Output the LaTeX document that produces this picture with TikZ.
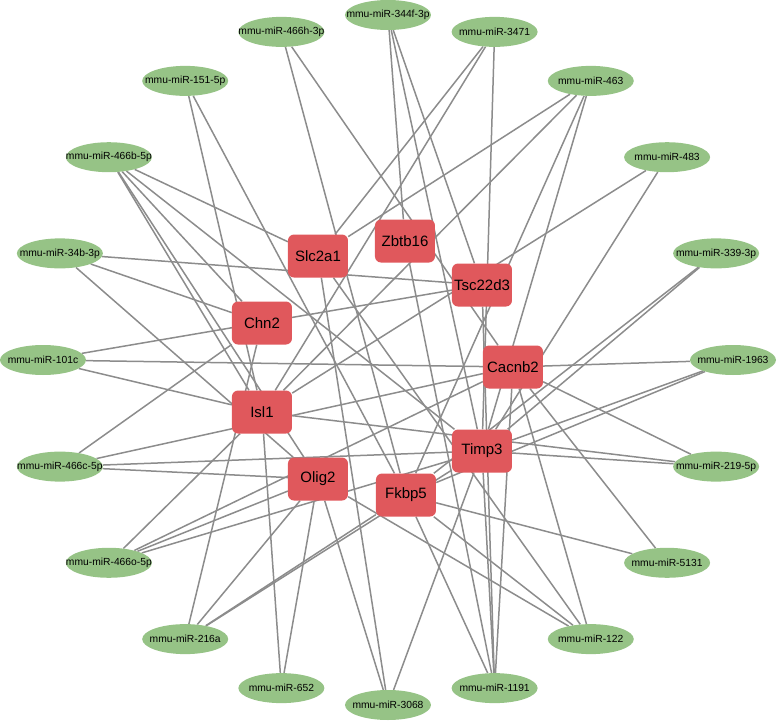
\documentclass[tikz,border=0pt]{standalone}
\usepackage{fontspec}
\setmainfont{Liberation Sans}
\usetikzlibrary{positioning}
\usetikzlibrary{shapes.geometric}
\usetikzlibrary{backgrounds}
\definecolor{mirgreen}{RGB}{150,195,134}
\definecolor{genered}{RGB}{224,88,92}
\definecolor{edgegray}{RGB}{140,140,140}
\newcommand{\mirtext}[1]{\makebox[0pt]{#1}}

\begin{document}
\begin{tikzpicture}[x=1pt, y=1pt,
        mirna/.style={ellipse, fill=mirgreen, minimum width=86pt, minimum height=30pt, inner sep=0pt, font=\fontsize{10.3}{12}\selectfont},
        gene/.style={rectangle, rounded corners=6pt, fill=genered, minimum width=60pt, minimum height=43pt, inner sep=0pt, font=\fontsize{15}{18}\selectfont},
        edge/.style={draw=edgegray, line width=1.5pt}]
        \useasboundingbox (-388,-361) rectangle (389,360);

        \node[mirna] (mir_344f) at (90:345) {\mirtext{mmu-miR-344f-3p}};
        \node[mirna] (mir_3471) at (72:345) {\mirtext{mmu-miR-3471}};
        \node[mirna] (mir_463) at (54:345) {\mirtext{mmu-miR-463}};
        \node[mirna] (mir_483) at (36:345) {\mirtext{mmu-miR-483}};
        \node[mirna] (mir_339) at (18:345) {\mirtext{mmu-miR-339-3p}};
        \node[mirna] (mir_1963) at (0:345) {\mirtext{mmu-miR-1963}};
        \node[mirna] (mir_219) at (-18:345) {\mirtext{mmu-miR-219-5p}};
        \node[mirna] (mir_5131) at (-36:345) {\mirtext{mmu-miR-5131}};
        \node[mirna] (mir_122) at (-54:345) {\mirtext{mmu-miR-122}};
        \node[mirna] (mir_1191) at (-72:345) {\mirtext{mmu-miR-1191}};
        \node[mirna] (mir_3068) at (-90:345) {\mirtext{mmu-miR-3068}};
        \node[mirna] (mir_652) at (-108:345) {\mirtext{mmu-miR-652}};
        \node[mirna] (mir_216a) at (-126:345) {\mirtext{mmu-miR-216a}};
        \node[mirna] (mir_466o) at (-144:345) {\mirtext{mmu-miR-466o-5p}};
        \node[mirna] (mir_466c) at (-162:345) {\mirtext{mmu-miR-466c-5p}};
        \node[mirna] (mir_101c) at (180:345) {\mirtext{mmu-miR-101c}};
        \node[mirna] (mir_34b) at (162:345) {\mirtext{mmu-miR-34b-3p}};
        \node[mirna] (mir_466b) at (144:345) {\mirtext{mmu-miR-466b-5p}};
        \node[mirna] (mir_151) at (126:345) {\mirtext{mmu-miR-151-5p}};
        \node[mirna] (mir_466h) at (108:345) {\mirtext{mmu-miR-466h-3p}};

        \node[gene] (zbtb16) at (17,119) {Zbtb16};
        \node[gene] (slc2a1) at (-70,104) {Slc2a1};
        \node[gene] (tsc22d3) at (94,75) {Tsc22d3};
        \node[gene] (chn2) at (-126,37) {Chn2};
        \node[gene] (cacnb2) at (125,-7) {Cacnb2};
        \node[gene] (isl1) at (-126,-52) {Isl1};
        \node[gene] (timp3) at (94,-91) {Timp3};
        \node[gene] (olig2) at (-70,-119) {Olig2};
        \node[gene] (fkbp5) at (18,-135) {Fkbp5};

        \begin{scope}[on background layer]
            \draw[edge] (mir_344f) -- (zbtb16);
            \draw[edge] (mir_344f) -- (timp3);
            \draw[edge] (mir_344f) -- (tsc22d3);
            \draw[edge] (mir_3471) -- (slc2a1);
            \draw[edge] (mir_3471) -- (isl1);
            \draw[edge] (mir_3471) -- (timp3);
            \draw[edge] (mir_463) -- (isl1);
            \draw[edge] (mir_463) -- (slc2a1);
            \draw[edge] (mir_463) -- (fkbp5);
            \draw[edge] (mir_463) -- (timp3);
            \draw[edge] (mir_483) -- (isl1);
            \draw[edge] (mir_483) -- (timp3);
            \draw[edge] (mir_339) -- (timp3);
            \draw[edge] (mir_339) -- (fkbp5);
            \draw[edge] (mir_1963) -- (cacnb2);
            \draw[edge] (mir_1963) -- (timp3);
            \draw[edge] (mir_1963) -- (fkbp5);
            \draw[edge] (mir_219) -- (cacnb2);
            \draw[edge] (mir_219) -- (isl1);
            \draw[edge] (mir_219) -- (timp3);
            \draw[edge] (mir_5131) -- (fkbp5);
            \draw[edge] (mir_5131) -- (cacnb2);
            \draw[edge] (mir_122) -- (cacnb2);
            \draw[edge] (mir_122) -- (slc2a1);
            \draw[edge] (mir_122) -- (fkbp5);
            \draw[edge] (mir_122) -- (olig2);
            \draw[edge] (mir_1191) -- (fkbp5);
            \draw[edge] (mir_1191) -- (zbtb16);
            \draw[edge] (mir_1191) -- (timp3);
            \draw[edge] (mir_1191) -- (tsc22d3);
            \draw[edge] (mir_1191) -- (cacnb2);
            \draw[edge] (mir_3068) -- (timp3);
            \draw[edge] (mir_3068) -- (olig2);
            \draw[edge] (mir_3068) -- (slc2a1);
            \draw[edge] (mir_652) -- (isl1);
            \draw[edge] (mir_652) -- (olig2);
            \draw[edge] (mir_216a) -- (chn2);
            \draw[edge] (mir_216a) -- (olig2);
            \draw[edge] (mir_216a) -- (fkbp5);
            \draw[edge] (mir_216a) -- (timp3);
            \draw[edge] (mir_466o) -- (isl1);
            \draw[edge] (mir_466o) -- (cacnb2);
            \draw[edge] (mir_466o) -- (olig2);
            \draw[edge] (mir_466o) -- (timp3);
            \draw[edge] (mir_466c) -- (chn2);
            \draw[edge] (mir_466c) -- (cacnb2);
            \draw[edge] (mir_466c) -- (timp3);
            \draw[edge] (mir_466c) -- (olig2);
            \draw[edge] (mir_101c) -- (tsc22d3);
            \draw[edge] (mir_101c) -- (cacnb2);
            \draw[edge] (mir_101c) -- (isl1);
            \draw[edge] (mir_34b) -- (tsc22d3);
            \draw[edge] (mir_34b) -- (chn2);
            \draw[edge] (mir_34b) -- (olig2);
            \draw[edge] (mir_466b) -- (slc2a1);
            \draw[edge] (mir_466b) -- (timp3);
            \draw[edge] (mir_466b) -- (chn2);
            \draw[edge] (mir_466b) -- (isl1);
            \draw[edge] (mir_466b) -- (olig2);
            \draw[edge] (mir_151) -- (isl1);
            \draw[edge] (mir_151) -- (fkbp5);
            \draw[edge] (mir_466h) -- (fkbp5);
            \draw[edge] (mir_466h) -- (cacnb2);
        \end{scope}
    \end{tikzpicture}
\end{document}
